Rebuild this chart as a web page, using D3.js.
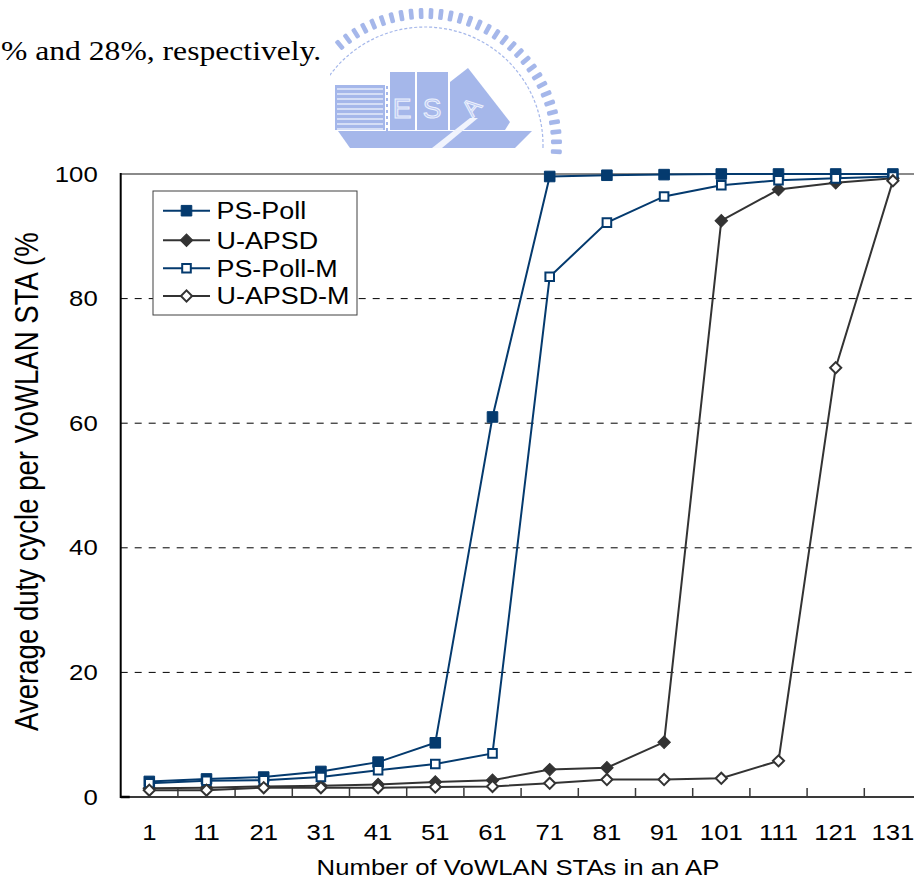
<!DOCTYPE html>
<html>
<head>
<meta charset="utf-8">
<script src="https://cdn.jsdelivr.net/npm/d3@7"></script>
<style>
  html, body { margin: 0; padding: 0; background: #fff; }
  svg { display: block; }
</style>
</head>
<body>
<svg id="chart" width="914" height="881"></svg>
<script>
// Number of VoWLAN stations associated with one AP
const categories = [1, 11, 21, 31, 41, 51, 61, 71, 81, 91, 101, 111, 121, 131];

// Average duty cycle per VoWLAN STA (%)
const psPoll  = [2.5, 2.9, 3.2, 4.1, 5.6, 8.7, 61.0, 99.6, 99.8, 99.9, 100, 100, 100, 100];
const uApsd   = [1.4, 1.5, 1.7, 1.8, 2.0, 2.4, 2.7, 4.4, 4.7, 8.8, 92.5, 97.5, 98.6, 99.3];
const psPollM = [2.2, 2.6, 2.7, 3.2, 4.3, 5.3, 7.0, 83.5, 92.2, 96.4, 98.2, 99.0, 99.3, 99.6];
const uApsdM  = [1.1, 1.1, 1.5, 1.5, 1.5, 1.6, 1.7, 2.2, 2.8, 2.8, 3.0, 5.8, 68.9, 98.9];

const seriesNames = ["PS-Poll", "U-APSD", "PS-Poll-M", "U-APSD-M"];
const yTickValues = [0, 20, 40, 60, 80, 100];
const gridValues  = [20, 40, 60, 80];

const xTitle = "Number of VoWLAN STAs in an AP";
const yTitle = "Average duty cycle per VoWLAN STA (%)";
const leadText = "% and 28%, respectively.";

// ---------------------------------------------------------------
const NAVY = "#043a6e", DARK = "#333333";
const SX = 1.17;                       // horizontal glyph stretch
const SANS = "'Liberation Sans', Arial, Helvetica, sans-serif";

const svg = d3.select("#chart");

const plot = { left: 120.7, right: 921.5, top: 174, bottom: 797 };

const x = d3.scaleBand().domain(categories).range([plot.left, plot.right]).padding(0);
const y = d3.scaleLinear().domain([0, 100]).range([plot.bottom, plot.top]);
const cx = c => x(c) + x.bandwidth() / 2;

// ---------- emblem watermark (behind the page text) ----------
const logo = svg.append("g").attr("opacity", 0.8);
const LB = "#8fa6e6";
const ecx = 425, ecy = 145, eR = 137;
d3.range(182, -10, -4.3).forEach(deg => {
  const a = deg * Math.PI / 180;
  const px = ecx + eR * Math.cos(a), py = ecy - eR * Math.sin(a);
  if (py > 156 || px < 330) return;
  logo.append("rect")
    .attr("x", -11).attr("y", -2.3).attr("width", 11).attr("height", 4.6)
    .attr("rx", 1.5)
    .attr("fill", LB)
    .attr("transform", `translate(${px},${py}) rotate(${-deg})`);
});
svg.append("clipPath").attr("id", "logoClip")
  .append("rect").attr("x", 330).attr("y", 0).attr("width", 270).attr("height", 150);
logo.append("circle")
  .attr("cx", ecx).attr("cy", ecy).attr("r", 118)
  .attr("fill", "none").attr("stroke", LB).attr("stroke-width", 1.2)
  .attr("stroke-dasharray", "3,2").attr("clip-path", "url(#logoClip)");
// striped block
logo.append("rect").attr("x", 335).attr("y", 85).attr("width", 50).attr("height", 45).attr("fill", LB);
d3.range(89, 130, 5).forEach(yy => {
  logo.append("line").attr("x1", 337).attr("x2", 383).attr("y1", yy).attr("y2", yy)
    .attr("stroke", "#dfe6fa").attr("stroke-width", 1.5);
});
d3.range(86, 130, 6).forEach(yy => {
  logo.append("rect").attr("x", 386).attr("y", yy).attr("width", 2).attr("height", 3).attr("fill", LB);
});
// E and S blocks
logo.append("rect").attr("x", 390).attr("y", 72).attr("width", 25).attr("height", 58).attr("fill", LB);
logo.append("rect").attr("x", 417).attr("y", 72).attr("width", 31).attr("height", 58).attr("fill", LB);
logo.append("text").attr("x", 402).attr("y", 118).attr("text-anchor", "middle")
  .attr("font-family", SANS).attr("font-size", 28).attr("fill", "#a9baf0")
  .attr("stroke", "#e8eefc").attr("stroke-width", 1).text("E");
logo.append("text").attr("x", 432).attr("y", 118).attr("text-anchor", "middle")
  .attr("font-family", SANS).attr("font-size", 28).attr("fill", "#a9baf0")
  .attr("stroke", "#e8eefc").attr("stroke-width", 1).text("S");
// A block (slanted)
logo.append("path").attr("d", "M450,130 L450,82 L468,68 L510,122 L505,130 Z").attr("fill", LB);
logo.append("text").attr("transform", "translate(478,112) rotate(-50)").attr("text-anchor", "middle")
  .attr("font-family", SANS).attr("font-size", 24).attr("fill", "#a9baf0")
  .attr("stroke", "#e8eefc").attr("stroke-width", 1).text("A");
// hull
logo.append("path").attr("d", "M338,131 L532,131 L515,148 L350,148 Z").attr("fill", LB);
logo.append("path").attr("d", "M432,148 L470,118 L478,118 L442,148 Z").attr("fill", "#eef2fd");

// ---------- page text above the figure ----------
svg.append("text")
  .attr("transform", "translate(1,60) scale(1.13,1)")
  .attr("font-family", "'Liberation Serif', 'Times New Roman', serif")
  .attr("font-size", 28)
  .attr("fill", "#000")
  .text(leadText);

// ---------- grid ----------
const grid = svg.append("g");
grid.selectAll("line.grid")
  .data(gridValues)
  .join("line")
  .attr("class", "grid")
  .attr("x1", plot.left).attr("x2", plot.right)
  .attr("y1", d => y(d)).attr("y2", d => y(d))
  .attr("stroke", "#000").attr("stroke-width", 1)
  .attr("stroke-dasharray", "7,7");
// top border of the plot area
grid.append("line")
  .attr("x1", plot.left).attr("x2", plot.right)
  .attr("y1", y(100)).attr("y2", y(100))
  .attr("stroke", "#8a8a8a").attr("stroke-width", 2);

// ---------- axes ----------
const yAxis = svg.append("g")
  .attr("transform", `translate(${plot.left},0)`)
  .call(d3.axisLeft(y).tickValues(yTickValues).tickSize(0).tickPadding(0));
yAxis.select(".domain").remove();
yAxis.selectAll("text")
  .attr("font-family", SANS).attr("font-size", 22).attr("fill", "#000")
  .attr("x", -23 / SX)
  .attr("transform", `scale(${SX},1)`);

const xAxis = svg.append("g")
  .attr("transform", `translate(0,${plot.bottom})`)
  .call(d3.axisBottom(x).tickSize(0).tickPadding(27));
xAxis.select(".domain").remove();
xAxis.selectAll("text")
  .attr("font-family", SANS).attr("font-size", 22).attr("fill", "#000")
  .attr("transform", `scale(${SX},1)`);

// category separators (inward ticks)
svg.append("g").selectAll("line")
  .data(categories.slice(1))
  .join("line")
  .attr("x1", d => x(d)).attr("x2", d => x(d))
  .attr("y1", plot.bottom - 9).attr("y2", plot.bottom)
  .attr("stroke", "#3a3a3a").attr("stroke-width", 1.5);

// axis lines
svg.append("line")
  .attr("x1", plot.left).attr("x2", plot.right)
  .attr("y1", plot.bottom).attr("y2", plot.bottom)
  .attr("stroke", "#3a3a3a").attr("stroke-width", 2);
svg.append("line")
  .attr("x1", plot.left).attr("x2", plot.left + 9)
  .attr("y1", plot.bottom).attr("y2", plot.bottom)
  .attr("stroke", "#000").attr("stroke-width", 2.5);
svg.append("line")
  .attr("x1", plot.left).attr("x2", plot.left)
  .attr("y1", plot.top - 1).attr("y2", plot.bottom + 1)
  .attr("stroke", "#000").attr("stroke-width", 2);

// axis titles
svg.append("text")
  .attr("transform", `translate(518,875) scale(${SX},1)`)
  .attr("text-anchor", "middle")
  .attr("font-family", SANS).attr("font-size", 22).attr("fill", "#000")
  .text(xTitle);

svg.append("clipPath").attr("id", "yTitleClip")
  .append("rect").attr("x", 0).attr("y", 232).attr("width", 70).attr("height", 600);
svg.append("g").attr("clip-path", "url(#yTitleClip)")
  .append("text")
  .attr("transform", `translate(38,731) scale(${SX},1) rotate(-90)`)
  .attr("font-family", SANS).attr("font-size", 27.6).attr("fill", "#000")
  .text(yTitle);

// ---------- series ----------
const seriesStyle = [
  { values: psPoll,  color: NAVY, shape: "square",  filled: true },
  { values: uApsd,   color: DARK, shape: "diamond", filled: true },
  { values: psPollM, color: NAVY, shape: "square",  filled: false },
  { values: uApsdM,  color: DARK, shape: "diamond", filled: false }
];

function markerPath(shape, filled) {
  if (shape === "square") return d3.symbol(d3.symbolSquare, filled ? 112 : 74)();
  return d3.symbol(d3.symbolSquare, filled ? 78 : 62)();
}
function drawMarker(g, s, px, py) {
  g.append("path")
    .attr("d", markerPath(s.shape, s.filled))
    .attr("transform", `translate(${px},${py})` + (s.shape === "diamond" ? " rotate(45)" : ""))
    .attr("fill", s.filled ? s.color : "#fff")
    .attr("stroke", s.color)
    .attr("stroke-width", s.filled ? 1 : 2);
}

const line = d3.line().x(d => cx(d.c)).y(d => y(d.v));

seriesStyle.forEach(s => {
  const pts = categories.map((c, i) => ({ c, v: s.values[i] }));
  const g = svg.append("g");
  g.append("path")
    .attr("d", line(pts))
    .attr("fill", "none")
    .attr("stroke", s.color)
    .attr("stroke-width", 2);
  pts.forEach(p => drawMarker(g, s, cx(p.c), y(p.v)));
});

// ---------- legend ----------
const legend = svg.append("g");
legend.append("rect")
  .attr("x", 153).attr("y", 191).attr("width", 204).attr("height", 124)
  .attr("fill", "#fff").attr("stroke", "#404040").attr("stroke-width", 1);
const rowY = [210.7, 240.3, 268.3, 296];
seriesStyle.forEach((s, i) => {
  const ry = rowY[i];
  legend.append("line")
    .attr("x1", 163).attr("x2", 210).attr("y1", ry).attr("y2", ry)
    .attr("stroke", s.color).attr("stroke-width", 2);
  drawMarker(legend, s, 186.5, ry);
  legend.append("text")
    .attr("transform", `translate(216.5,${ry + 8.3}) scale(${SX},1)`)
    .attr("font-family", SANS).attr("font-size", 23).attr("fill", "#000")
    .text(seriesNames[i]);
});
</script>
</body>
</html>
